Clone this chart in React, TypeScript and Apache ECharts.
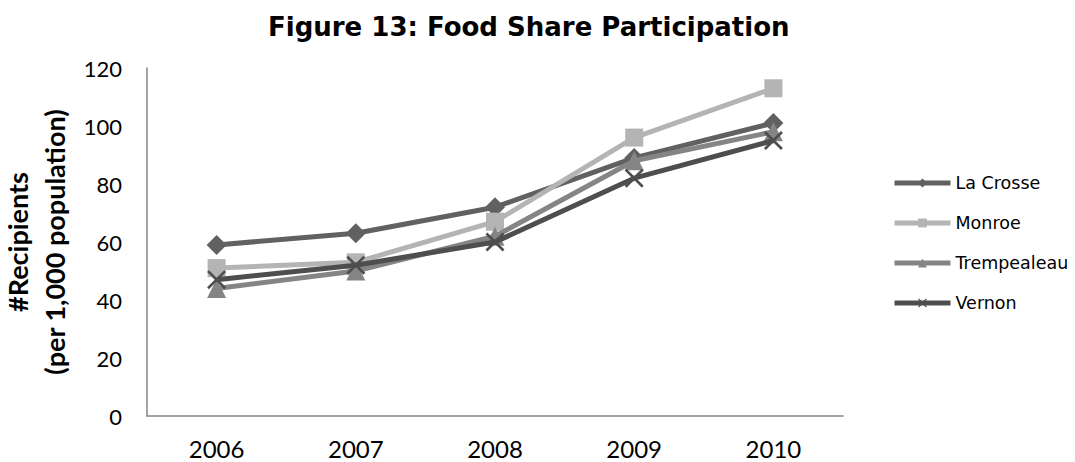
import React, { useEffect, useRef } from "react";
import * as echarts from "echarts";

const years = ["2006", "2007", "2008", "2009", "2010"];
const seriesNames = ["La Crosse", "Monroe", "Trempealeau", "Vernon"];
const laCrosse = [59, 63, 72, 89, 101];
const monroe = [51, 53, 67, 96, 113];
const trempealeau = [44, 50, 62, 88, 98];
const vernon = [47, 52, 60, 82, 95];
const colors = ["#616161", "#b4b4b4", "#858585", "#4e4e4e"];
const symbols = [
  "diamond",
  "rect",
  "triangle",
  "path://M0,1 L1,0 L5,4 L9,0 L10,1 L6,5 L10,9 L9,10 L5,6 L1,10 L0,9 L4,5 Z",
];
const symbolSizes = [20, 18, 19, 19];
const titleText = "Figure 13: Food Share Participation";
const yAxisName = "#Recipients\n(per 1,000 population)";

export default function App() {
  const ref = useRef<HTMLDivElement>(null);
  useEffect(() => {
    if (!ref.current) return;
    const chart = echarts.init(ref.current, undefined, { renderer: "svg" });
    const dataSets = [laCrosse, monroe, trempealeau, vernon];
    chart.setOption({
      animation: false,
      backgroundColor: "#ffffff",
      title: {
        text: titleText,
        left: 263,
        top: 9,
        textStyle: {
          fontFamily: "DejaVu Sans",
          fontWeight: "bold",
          fontSize: 26,
          color: "#000000",
        },
      },
      legend: {
        orient: "vertical",
        left: 892,
        top: 174,
        padding: 0,
        itemWidth: 56,
        itemHeight: 11,
        itemGap: 22,
        data: seriesNames,
        lineStyle: { width: 5 },
        textStyle: {
          fontFamily: "DejaVu Sans",
          fontSize: 17.5,
          color: "#000000",
        },
      },
      grid: {
        left: 147,
        right: 232,
        top: 68,
        bottom: 46,
        containLabel: false,
        outerBoundsMode: "none",
      },
      xAxis: {
        type: "category",
        data: years,
        boundaryGap: true,
        axisLine: { lineStyle: { color: "#868686", width: 1.5 } },
        axisTick: { show: false },
        axisLabel: {
          fontFamily: "Lato",
          fontSize: 24,
          color: "#000000",
          margin: 20,
        },
      },
      yAxis: {
        type: "value",
        min: 0,
        max: 120,
        interval: 20,
        splitLine: { show: false },
        axisLine: { show: true, lineStyle: { color: "#868686", width: 1.5 } },
        axisTick: { show: false },
        axisLabel: {
          fontFamily: "Lato",
          fontSize: 22,
          color: "#000000",
          margin: 25,
        },
        name: yAxisName,
        nameLocation: "middle",
        nameRotate: 90,
        nameGap: 72,
        nameTextStyle: {
          fontFamily: "Lato",
          fontWeight: "bold",
          fontSize: 27,
          lineHeight: 37,
          color: "#000000",
          align: "center",
        },
      },
      series: seriesNames.map((name, i) => ({
        name,
        type: "line",
        data: dataSets[i],
        symbol: symbols[i],
        symbolSize: symbolSizes[i],
        showSymbol: true,
        lineStyle: { color: colors[i], width: 5 },
        itemStyle: { color: colors[i] },
        z: 2 + i,
      })),
    });
    return () => chart.dispose();
  }, []);
  return (
    <div
      ref={ref}
      style={{ width: 1075, height: 462, marginTop: -8, marginLeft: -8 }}
    />
  );
}
